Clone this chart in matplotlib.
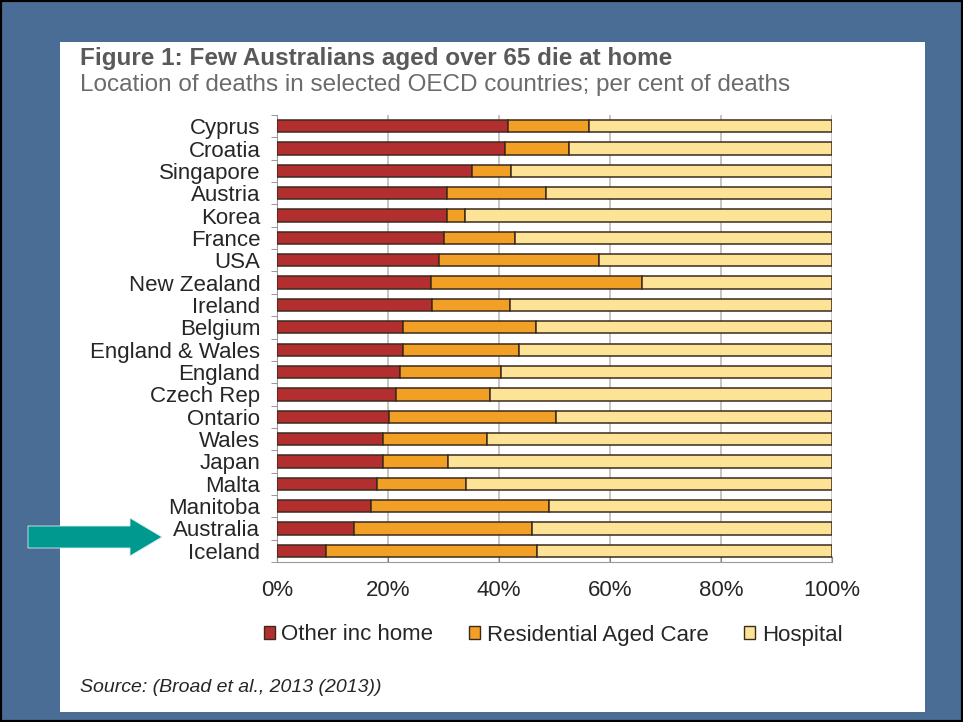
import matplotlib.pyplot as plt
from matplotlib.patches import Rectangle, Patch, FancyArrow

# データ (%)
countries = ["Cyprus", "Croatia", "Singapore", "Austria", "Korea", "France", "USA",
             "New Zealand", "Ireland", "Belgium", "England & Wales", "England",
             "Czech Rep", "Ontario", "Wales", "Japan", "Malta", "Manitoba",
             "Australia", "Iceland"]
other_home = [41.7, 41.0, 35.1, 30.6, 30.6, 30.1, 29.1, 27.8, 27.9, 22.7,
              22.7, 22.2, 21.5, 20.2, 19.1, 19.1, 18.0, 16.9, 13.8, 8.9]
aged_care = [14.6, 11.7, 7.1, 17.9, 3.2, 12.8, 28.9, 38.0, 14.1, 24.0,
             20.9, 18.2, 16.8, 30.1, 18.8, 11.8, 16.0, 32.1, 32.2, 37.9]
hospital = [100 - a - b for a, b in zip(other_home, aged_care)]
xticks = [0, 20, 40, 60, 80, 100]
xtick_labels = ["0%", "20%", "40%", "60%", "80%", "100%"]

c_red = "#b32f2f"
c_orange = "#f19f25"
c_yellow = "#fde396"
c_edge = "#3b2a1c"
c_text = "#262626"
c_bg = "#4a6d95"

W, H = 963, 722
fig = plt.figure(figsize=(W / 100, H / 100), dpi=100)
fig.patch.set_facecolor(c_bg)
plt.rcParams['font.family'] = ['Liberation Sans', 'DejaVu Sans']

# 枠と白いパネル
fig.add_artist(Rectangle((0, 0), 1, 1, transform=fig.transFigure,
                         fill=False, edgecolor="black", linewidth=3))
fig.add_artist(Rectangle((60 / W, 1 - 712 / H), 865 / W, 670 / H,
                         transform=fig.transFigure, facecolor="white",
                         edgecolor="none", zorder=0))

# 矢印
fig.add_artist(FancyArrow(28 / W, 1 - 537 / H, 102 / W, 0,
                          width=22 / H, head_width=38 / H, head_length=32 / W,
                          length_includes_head=False, transform=fig.transFigure,
                          facecolor="#00998f", edgecolor="#d8ecea", linewidth=0.6))

ax = fig.add_axes([277 / W, 1 - 562 / H, 555 / W, 447 / H])
ax.set_facecolor("white")
y = list(range(len(countries)))
h = 0.55
ax.barh(y, other_home, height=h, color=c_red, edgecolor=c_edge, linewidth=1.1, zorder=3)
ax.barh(y, aged_care, left=other_home, height=h, color=c_orange, edgecolor=c_edge,
        linewidth=1.1, zorder=3)
left2 = [a + b for a, b in zip(other_home, aged_care)]
ax.barh(y, hospital, left=left2, height=h, color=c_yellow, edgecolor=c_edge,
        linewidth=1.1, zorder=3)

ax.set_ylim(len(countries) - 0.5, -0.5)
ax.set_xlim(0, 100)
ax.set_yticks(y)
ax.set_yticklabels(countries, fontsize=16, color=c_text)
ax.tick_params(axis="y", length=0, pad=12)
ax.set_yticks([i - 0.5 for i in range(len(countries) + 1)], minor=True)
ax.tick_params(axis="y", which="minor", length=4, color="#888888")
ax.set_xticks(xticks)
ax.set_xticklabels(xtick_labels, fontsize=16, color=c_text)
ax.tick_params(axis="x", length=4, color="#888888", pad=13, direction="in")
ax.xaxis.grid(True, color="#c0c0c0", linewidth=1.3, zorder=0)
for s in ["top", "right"]:
    ax.spines[s].set_visible(False)
ax.spines["left"].set_color("#999999")
ax.spines["bottom"].set_color("#999999")

fig.text(80 / W, 1 - 58 / H, "Figure 1: Few Australians aged over 65 die at home",
         fontsize=17.5, fontweight="bold", color="#595959", va="center")
fig.text(80 / W, 1 - 85 / H, "Location of deaths in selected OECD countries; per cent of deaths",
         fontsize=17.5, color="#6b6b6b", va="center")

handles = [Patch(facecolor=c_red, edgecolor=c_edge, label="Other inc home"),
           Patch(facecolor=c_orange, edgecolor=c_edge, label="Residential Aged Care"),
           Patch(facecolor=c_yellow, edgecolor=c_edge, label="Hospital")]
fig.legend(handles=handles, loc="center", bbox_to_anchor=(553 / W, 1 - 635 / H),
           ncol=3, frameon=False, fontsize=16, handlelength=0.5, handleheight=0.5,
           handletextpad=0.3, columnspacing=1.6, labelcolor=c_text)

fig.text(80 / W, 1 - 688 / H, "Source: (Broad et al., 2013 (2013))", fontsize=14,
         style="italic", color=c_text, va="center")

fig.savefig("out.png", dpi=100, facecolor=fig.get_facecolor())
